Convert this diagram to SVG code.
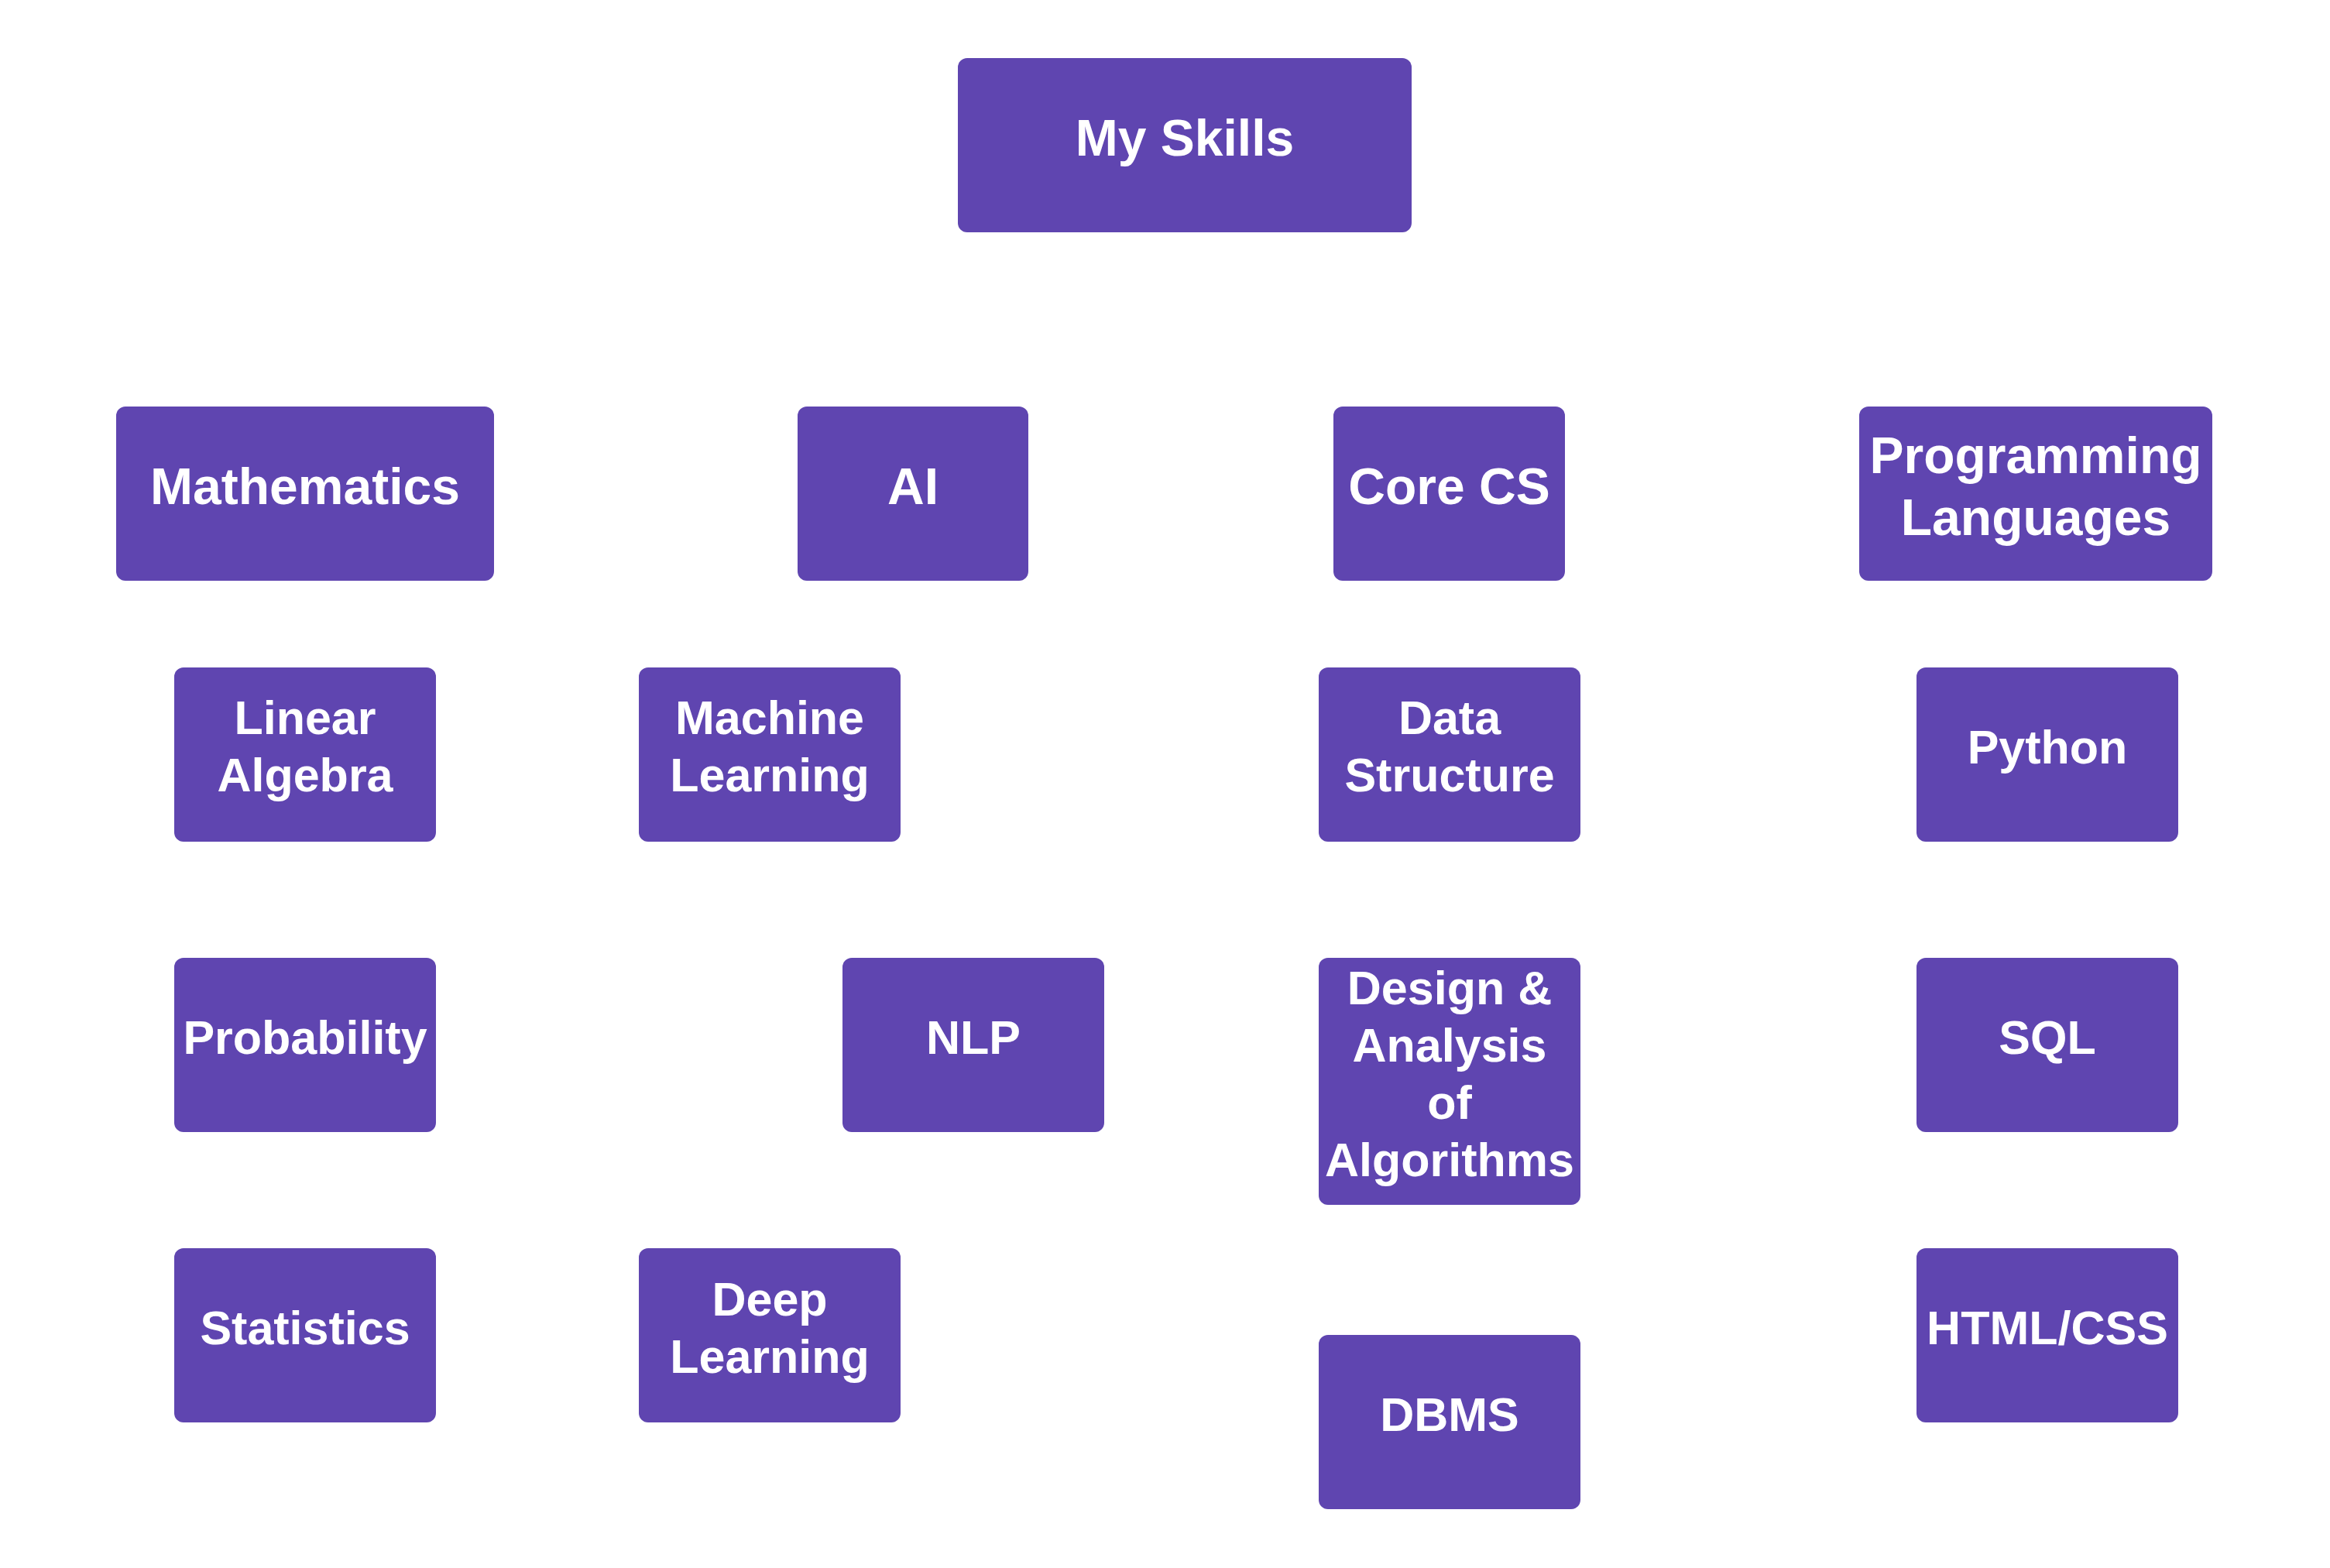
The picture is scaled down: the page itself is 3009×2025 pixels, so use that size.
<svg xmlns="http://www.w3.org/2000/svg" width="3009" height="2025" viewBox="0 0 3009 2025">
<style>
.box{fill:#5F45B0;}
.t{font-family:"Liberation Sans",Arial,sans-serif;font-weight:bold;fill:#FFFFFF;text-anchor:middle;}
.lg{font-size:66px;}
.sm{font-size:61px;}
</style>
<rect width="3009" height="2025" fill="#FFFFFF"/>
<g id="connectors"></g>
<g id="my-skills"><rect class="box" x="1237" y="75" width="586" height="225" rx="12"/><text class="t lg" x="1530" y="201">My Skills</text></g>
<g id="mathematics"><rect class="box" x="150" y="525" width="488" height="225" rx="12"/><text class="t lg" x="394" y="651">Mathematics</text></g>
<g id="ai"><rect class="box" x="1030" y="525" width="298" height="225" rx="12"/><text class="t lg" x="1179" y="651">AI</text></g>
<g id="core-cs"><rect class="box" x="1722" y="525" width="299" height="225" rx="12"/><text class="t lg" x="1871.5" y="651">Core CS</text></g>
<g id="programming-languages"><rect class="box" x="2401" y="525" width="456" height="225" rx="12"/><text class="t lg" x="2629" y="611">Programming</text><text class="t lg" x="2629" y="691">Languages</text></g>
<g id="linear-algebra"><rect class="box" x="225" y="862" width="338" height="225" rx="12"/><text class="t sm" x="394" y="947.5">Linear</text><text class="t sm" x="394" y="1021.5">Algebra</text></g>
<g id="machine-learning"><rect class="box" x="825" y="862" width="338" height="225" rx="12"/><text class="t sm" x="994" y="947.5">Machine</text><text class="t sm" x="994" y="1021.5">Learning</text></g>
<g id="data-structure"><rect class="box" x="1703" y="862" width="338" height="225" rx="12"/><text class="t sm" x="1872" y="947.5">Data</text><text class="t sm" x="1872" y="1021.5">Structure</text></g>
<g id="python"><rect class="box" x="2475" y="862" width="338" height="225" rx="12"/><text class="t sm" x="2644" y="986">Python</text></g>
<g id="probability"><rect class="box" x="225" y="1237" width="338" height="225" rx="12"/><text class="t sm" x="394" y="1361">Probability</text></g>
<g id="nlp"><rect class="box" x="1088" y="1237" width="338" height="225" rx="12"/><text class="t sm" x="1257" y="1361">NLP</text></g>
<g id="daa"><rect class="box" x="1703" y="1237" width="338" height="319" rx="12"/><text class="t sm" x="1872" y="1297">Design &amp;</text><text class="t sm" x="1872" y="1371">Analysis</text><text class="t sm" x="1872" y="1445">of</text><text class="t sm" x="1872" y="1519">Algorithms</text></g>
<g id="sql"><rect class="box" x="2475" y="1237" width="338" height="225" rx="12"/><text class="t sm" x="2644" y="1361">SQL</text></g>
<g id="statistics"><rect class="box" x="225" y="1612" width="338" height="225" rx="12"/><text class="t sm" x="394" y="1736">Statistics</text></g>
<g id="deep-learning"><rect class="box" x="825" y="1612" width="338" height="225" rx="12"/><text class="t sm" x="994" y="1699">Deep</text><text class="t sm" x="994" y="1773">Learning</text></g>
<g id="html-css"><rect class="box" x="2475" y="1612" width="338" height="225" rx="12"/><text class="t sm" x="2644" y="1736">HTML/CSS</text></g>
<g id="dbms"><rect class="box" x="1703" y="1724" width="338" height="225" rx="12"/><text class="t sm" x="1872" y="1848">DBMS</text></g>
</svg>
